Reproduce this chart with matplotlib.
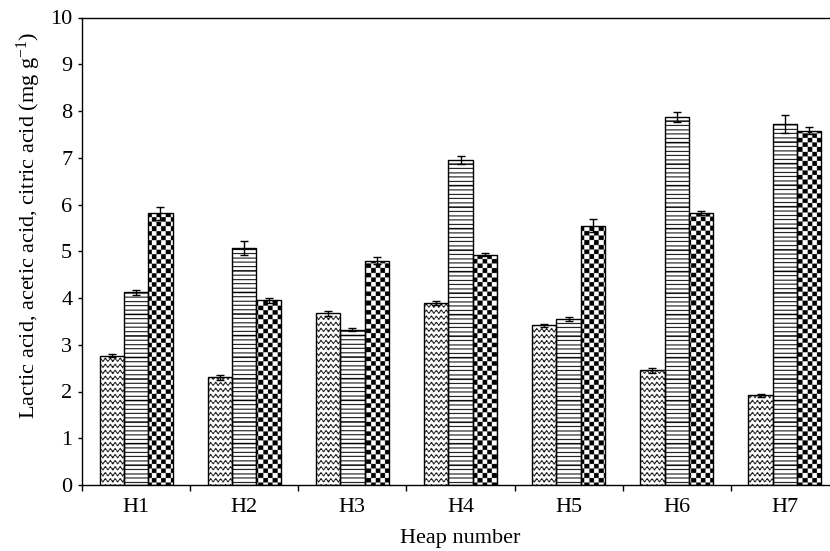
import numpy as np
import matplotlib
matplotlib.use("Agg")
import matplotlib.pyplot as plt
from matplotlib.ticker import FixedLocator, NullFormatter, FixedFormatter

plt.rcParams['font.family'] = ['Liberation Serif', 'DejaVu Serif']
plt.rcParams['mathtext.fontset'] = 'custom'
plt.rcParams['mathtext.rm'] = 'Liberation Serif'
plt.rcParams['mathtext.it'] = 'Liberation Serif:italic'

# ---- data ----
heaps = ["H1", "H2", "H3", "H4", "H5", "H6", "H7"]
lactic = [2.77, 2.30, 3.67, 3.90, 3.42, 2.45, 1.92]
acetic = [4.12, 5.07, 3.32, 6.95, 3.55, 7.87, 7.73]
citric = [5.81, 3.95, 4.80, 4.93, 5.55, 5.82, 7.58]
lactic_err = [0.03, 0.05, 0.05, 0.04, 0.03, 0.05, 0.03]
acetic_err = [0.05, 0.15, 0.03, 0.08, 0.05, 0.10, 0.19]
citric_err = [0.14, 0.05, 0.08, 0.03, 0.13, 0.05, 0.07]
yticks = list(range(0, 11))

W, H = 830, 551
fig = plt.figure(figsize=(W / 100, H / 100), dpi=100)
ax_l, ax_r, ax_t, ax_b = 82, 839, 17.5, 485
ax = fig.add_axes([ax_l / W, (H - ax_b) / H, (ax_r - ax_l) / W, (ax_b - ax_t) / H])

ncat = len(heaps)
ax.set_xlim(0, ncat)
ax.set_ylim(0, 10)

# ---- textures in pixel space (scale s) ----
s = 2
pw, ph = int(round((ax_r - ax_l) * s)), int(round((ax_b - ax_t) * s))
yy, xx = np.mgrid[0:ph, 0:pw]
xp = (xx + 0.5) / s
yp = (yy + 0.5) / s

wave = (yp - 1.3 * np.sin(2 * np.pi * xp / 4.8)) % 6.0
tex_wave = np.where(wave < 1.6, 0.0, 1.0)
tex_hline = np.where((yp % 4.3) < 1.1, 0.0, 1.0)
tex_check = ((np.floor(xp / 4.65) + np.floor(yp / 4.65)) % 2).astype(float)

series = [(lactic, lactic_err, tex_wave, -1),
          (acetic, acetic_err, tex_hline, 0),
          (citric, citric_err, tex_check, 1)]

bw = 0.225
centers = np.arange(ncat) + 0.5
for vals, errs, tex, off in series:
    xs = centers + off * bw
    bars = ax.bar(xs, vals, width=bw, facecolor='white', edgecolor='black',
                  linewidth=1.0, zorder=3, fill=False)
    for b in bars:
        im = ax.imshow(tex, extent=[0, ncat, 0, 10], origin='upper', cmap='gray',
                       vmin=0, vmax=1, aspect='auto', interpolation='antialiased',
                       zorder=2)
        im.set_clip_path(b)
    ax.errorbar(xs, vals, yerr=errs, fmt='none', ecolor='black', elinewidth=1.0,
                capsize=3, capthick=1.0, zorder=4)

ax.set_xlim(0, ncat)
ax.set_ylim(0, 10)

# ---- axes styling ----
ax.spines['right'].set_visible(False)
for sp in ['left', 'bottom', 'top']:
    ax.spines[sp].set_linewidth(1.0)

ax.set_yticks(yticks)
ax.set_yticklabels([str(v) for v in yticks])
ax.tick_params(axis='y', direction='out', length=3, width=1, labelsize=16, pad=4)

ax.xaxis.set_major_locator(FixedLocator(np.arange(0, ncat + 1)))
ax.xaxis.set_major_formatter(NullFormatter())
ax.xaxis.set_minor_locator(FixedLocator(centers))
ax.xaxis.set_minor_formatter(FixedFormatter(heaps))
ax.tick_params(axis='x', which='major', direction='out', length=4, width=1)
ax.tick_params(axis='x', which='minor', length=0, labelsize=16, pad=9)

ax.set_xlabel("Heap number", fontsize=16, labelpad=9)
ax.set_ylabel(r"Lactic acid, acetic acid, citric acid (mg g$^{-1}$)", fontsize=16)
ax.yaxis.set_label_coords(-0.052, 0.556)

fig.savefig("out.png", dpi=100)
